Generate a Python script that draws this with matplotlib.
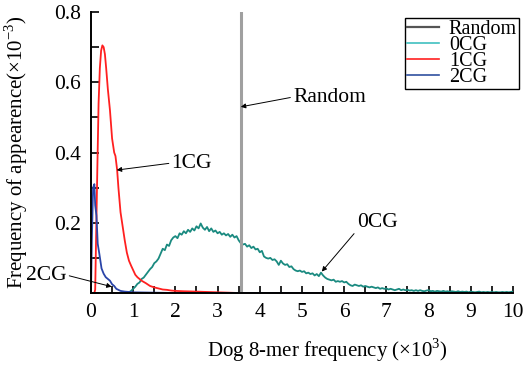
import numpy as np
import matplotlib
matplotlib.use('Agg')
import matplotlib.pyplot as plt
from matplotlib.lines import Line2D
from matplotlib.ticker import MultipleLocator

plt.rcParams['font.family'] = ['Liberation Serif', 'DejaVu Serif']
plt.rcParams['mathtext.fontset'] = 'custom'
plt.rcParams['mathtext.rm'] = 'Liberation Serif'

# 0CG curve, sampled every 0.05 (x1000) from 0.8 to 10
x_0cg = np.round(np.arange(0.8, 10.001, 0.05), 2)
y_0cg = [
    0.000, 0.000, 0.002, 0.006, 0.012, 0.018, 0.026, 0.030, 0.040, 0.044,
    0.052, 0.060, 0.068, 0.074, 0.085, 0.090, 0.098, 0.112, 0.126, 0.122,
    0.138, 0.134, 0.150, 0.158, 0.162, 0.156, 0.170, 0.166, 0.176, 0.170,
    0.180, 0.174, 0.184, 0.178, 0.190, 0.184, 0.198, 0.186, 0.180, 0.188,
    0.176, 0.184, 0.174, 0.178, 0.170, 0.174, 0.166, 0.170, 0.164, 0.168,
    0.160, 0.166, 0.158, 0.162, 0.150, 0.142, 0.138, 0.140, 0.132, 0.136,
    0.128, 0.132, 0.124, 0.126, 0.116, 0.120, 0.104, 0.100, 0.098, 0.100,
    0.094, 0.096, 0.090, 0.080, 0.092, 0.084, 0.080, 0.082, 0.074, 0.076,
    0.068, 0.064, 0.062, 0.064, 0.060, 0.062, 0.056, 0.058, 0.054, 0.056,
    0.050, 0.054, 0.048, 0.058, 0.050, 0.044, 0.040, 0.038, 0.036, 0.038,
    0.032, 0.034, 0.032, 0.034, 0.030, 0.032, 0.026, 0.022, 0.020, 0.024,
    0.022, 0.020, 0.022, 0.018, 0.020, 0.018, 0.016, 0.018, 0.016, 0.014,
    0.016, 0.012, 0.014, 0.012, 0.013, 0.010, 0.012, 0.010, 0.008, 0.010,
    0.012, 0.008, 0.010, 0.008, 0.009, 0.007, 0.008, 0.006, 0.008, 0.006,
    0.008, 0.006, 0.005, 0.007, 0.008, 0.005, 0.006, 0.004, 0.006, 0.005,
    0.004, 0.006, 0.004, 0.005, 0.003, 0.005, 0.004, 0.003, 0.005, 0.003,
    0.004, 0.003, 0.004, 0.002, 0.004, 0.003, 0.002, 0.003, 0.004, 0.002,
    0.003, 0.002, 0.003, 0.002, 0.003, 0.002, 0.003, 0.002, 0.002, 0.003,
    0.002, 0.003, 0.002, 0.003, 0.004,
]

# 1CG curve
x_1cg = [0.00, 0.08, 0.10, 0.12, 0.15, 0.18, 0.21, 0.24, 0.27, 0.30, 0.33, 0.36,
         0.40, 0.45, 0.50, 0.55, 0.58, 0.62, 0.65, 0.70, 0.75, 0.80, 0.85,
         0.90, 0.95, 1.00, 1.05, 1.10, 1.15, 1.20, 1.30, 1.40, 1.50, 1.60,
         1.70, 1.80, 1.90, 2.00, 2.20, 2.50, 3.00, 3.50, 10.0]
y_1cg = [0.000, 0.000, 0.010, 0.150, 0.350, 0.540, 0.640, 0.690, 0.705, 0.700, 0.680, 0.640,
         0.580, 0.520, 0.440, 0.400, 0.390, 0.350, 0.300, 0.230, 0.190, 0.150, 0.115,
         0.092, 0.078, 0.065, 0.052, 0.045, 0.040, 0.035, 0.028, 0.020, 0.016, 0.013,
         0.010, 0.009, 0.007, 0.006, 0.005, 0.004, 0.002, 0.000, 0.000]

# 2CG curve
x_2cg = [0.00, 0.02, 0.05, 0.08, 0.10, 0.13, 0.16, 0.20, 0.25, 0.30, 0.35,
         0.40, 0.45, 0.50, 0.55, 0.60, 0.70, 0.80, 1.00, 1.50, 2.00, 10.0]
y_2cg = [0.000, 0.150, 0.300, 0.310, 0.250, 0.220, 0.140, 0.110, 0.070, 0.055, 0.045,
         0.040, 0.035, 0.025, 0.020, 0.012, 0.006, 0.004, 0.002, 0.001, 0.000, 0.000]

random_x = 3.55

fig = plt.figure(figsize=(5.25, 3.67), dpi=100)
ax = fig.add_axes([0.1733, 0.2016, 0.8038, 0.7657])

ax.plot(x_0cg, y_0cg, color='#1a8a80', lw=1.3)
ax.plot(x_1cg, y_1cg, color='#ff2020', lw=1.3)
ax.plot(x_2cg, y_2cg, color='#2a44a8', lw=1.3)
ax.axvline(random_x, color='#a0a0a0', lw=2.2)

ax.set_xlim(0, 10)
ax.set_ylim(0, 0.8)
ax.xaxis.set_minor_locator(MultipleLocator(0.5))
ax.yaxis.set_minor_locator(MultipleLocator(0.1))
ax.set_yticks([0.2, 0.4, 0.6, 0.8])
ax.set_xticks(range(0, 11))
ax.set_xticklabels([str(i) for i in range(0, 11)])
ax.tick_params(which='both', direction='in', length=5, width=1.2, labelsize=15.5)
ax.tick_params(axis='y', which='both', length=6)
ax.tick_params(axis='x', pad=7)
ax.tick_params(axis='y', pad=7)
for s in ['top', 'right']:
    ax.spines[s].set_visible(False)
for s in ['left', 'bottom']:
    ax.spines[s].set_linewidth(1.4)

ax.set_xlabel('Dog 8-mer frequency ($\\times$10$^3$)', fontsize=15)
ax.xaxis.set_label_coords(0.56, -0.155)
ax.set_ylabel('Frequency of appearence($\\times$10$^{-3}$)', fontsize=15)
ax.yaxis.set_label_coords(-0.145, 0.5)

arrow = dict(arrowstyle='-|>', color='black', lw=0.7, mutation_scale=7, shrinkA=0, shrinkB=0)
ax.annotate('Random', xy=(3.55, 0.53), xytext=(4.79, 0.558), fontsize=15.5,
            ha='left', va='center', arrowprops=dict(arrow, relpos=(0, 0.5)))
ax.annotate('1CG', xy=(0.61, 0.35), xytext=(1.91, 0.37), fontsize=15.5,
            ha='left', va='center', arrowprops=dict(arrow, relpos=(0, 0.5)))
ax.annotate('0CG', xy=(5.47, 0.061), xytext=(6.3, 0.2), fontsize=15.5,
            ha='left', va='center', arrowprops=dict(arrow, relpos=(0, 0.1)))
ax.annotate('2CG', xy=(0.49, 0.018), xytext=(-0.58, 0.051), fontsize=15.5,
            ha='right', va='center', annotation_clip=False,
            arrowprops=dict(arrow, relpos=(1, 0.5)))

handles = [Line2D([], [], color='#555555', lw=1.6),
           Line2D([], [], color='#40c0c0', lw=1.2),
           Line2D([], [], color='#ff2020', lw=1.2),
           Line2D([], [], color='#3050a0', lw=1.2)]
leg = ax.legend(handles, ['Random', '0CG', '1CG', '2CG'], loc='upper right',
                bbox_to_anchor=(0.9886, 0.951), bbox_transform=fig.transFigure,
                fontsize=14.5, labelspacing=-0.15, handlelength=1.6, handletextpad=0.5,
                borderpad=0.1, borderaxespad=0, fancybox=False, framealpha=1)
leg.get_frame().set_edgecolor('black')
leg.get_frame().set_linewidth(1.0)

fig.savefig('out.png', dpi=100)
